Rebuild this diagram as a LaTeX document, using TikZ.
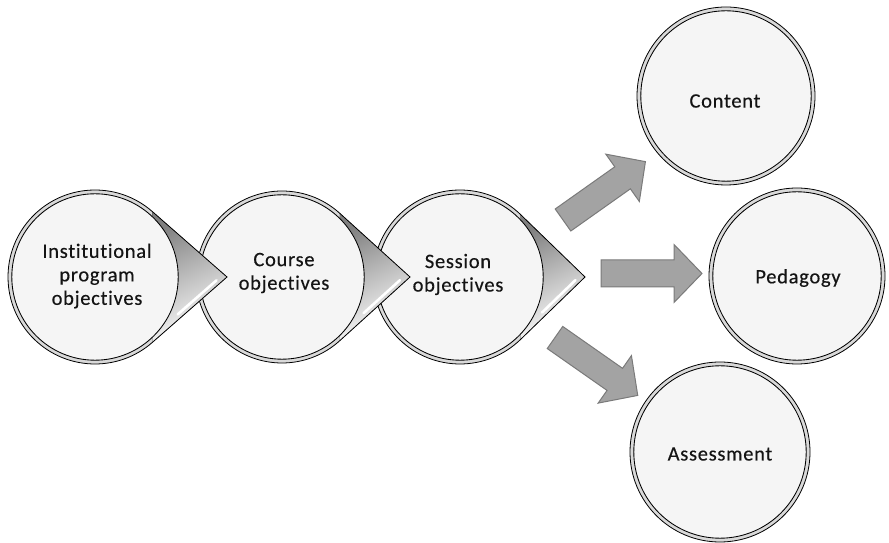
\documentclass[tikz,border=0pt]{standalone}
\usepackage{fontspec}
\setmainfont{Carlito}[Ligatures={NoCommon}, LetterSpace=3.5, FakeBold=0.35]
\usetikzlibrary{calc}
\tikzset{
  x=1pt, y=1pt,
  ring/.style={draw=black, line width=0.8pt, fill=black!15},
  disk/.style={draw=black, line width=0.85pt, fill=black!4},
  lbl/.style={font=\fontsize{20.5}{23.5}\selectfont, align=center, text=black!92, inner sep=0pt},
  blk/.style={fill=black!36, draw=black!52, line width=1pt, line join=miter},
  % block arrow, tail centre at the origin, pointing along +x
  pics/blockarrow/.style={code={
    \draw[blk] (0,-13.5) -- (73,-13.5) -- (73,-29) -- (101,0) -- (73,29)
               -- (73,13.5) -- (0,13.5) -- cycle;}},
  % circle of radius #1 with a pointer whose tip lies #2 to the right
  pics/teardrop/.style 2 args={code={
    \pgfmathsetmacro\tha{acos(#1/#2)}
    \pgfmathsetmacro\rin{#1-3.8}
    \fill[black!15] (#2,0) -- (\tha:#1) arc[start angle=\tha, end angle={360-\tha}, radius=#1] -- cycle;
    \fill[top color=black!50, bottom color=white, shading angle=25]
      (#2,0) -- (\tha:#1) -- (-\tha:#1) -- cycle;
    \draw[white, line width=2.6pt, line cap=round]
      ($(#2,0)!0.10!(-\tha:#1)+(-3,3.2)$) -- ($(#2,0)!0.62!(-\tha:#1)+(-3,3.2)$);
    \draw[black, line width=0.8pt, line join=miter]
      (#2,0) -- (\tha:#1) arc[start angle=\tha, end angle={360-\tha}, radius=#1] -- cycle;
    \draw[disk] (0,0) circle[radius=\rin];
  }}
}
\begin{document}
\begin{tikzpicture}
  \useasboundingbox (0,0) rectangle (889,543);
  \fill[white] (0,0) rectangle (889,543);

  % the chain of objectives, drawn right to left so each pointer lies on top
  \coordinate (sess) at (460,266);
  \coordinate (course) at (282,266);
  \coordinate (inst) at (95,266);
  \pic at (sess) {teardrop={87}{125}};
  \pic at (course) {teardrop={86}{128}};
  \pic at (inst) {teardrop={87}{132}};

  % outcome circles
  \coordinate (cont) at (726,447);
  \coordinate (peda) at (797,267);
  \coordinate (asse) at (720,91);
  \foreach \c/\r in {cont/89, peda/88, asse/90}{
    \draw[ring] (\c) circle[radius=\r];
    \draw[disk] (\c) circle[radius=\r-3.8];
  }

  % block arrows fanning out
  \pic[rotate=35.3] at (563,323) {blockarrow};
  \pic at (601,269.5) {blockarrow};
  \pic[rotate=-35] at (555,205.5) {blockarrow};

  % labels
  \node[lbl] (tInst) at (97,267) {Institutional\\program\\objectives};
  \node[lbl] (tCourse) at (284,270) {Course\\objectives};
  \node[lbl] (tSess) at (458,268.5) {Session\\objectives};
  \node[lbl] (tCont) at (725,442) {Content};
  \node[lbl] (tPeda) at (798,265) {Pedagogy};
  \node[lbl] (tAsse) at (720,89) {Assessment};
\end{tikzpicture}
\end{document}
